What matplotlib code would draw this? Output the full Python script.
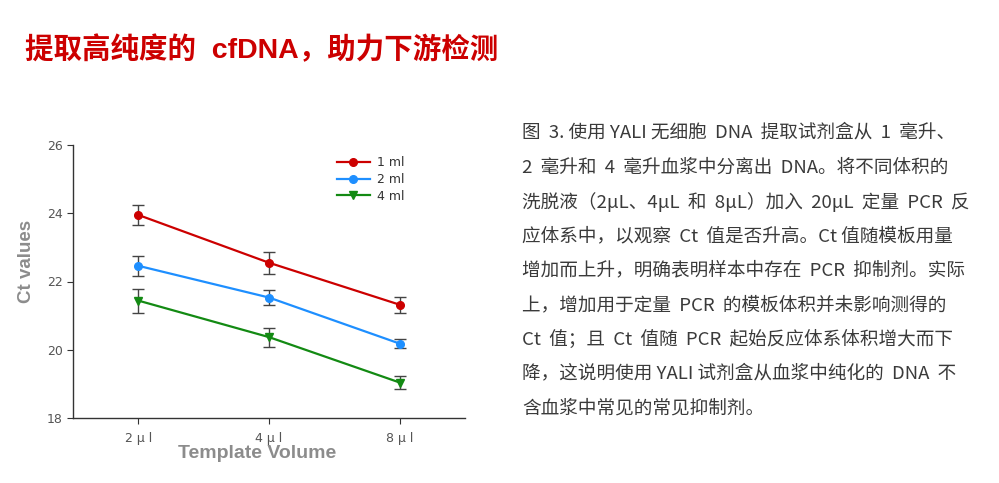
import matplotlib
matplotlib.use("Agg")
import matplotlib.pyplot as plt

# ── data ──────────────────────────────────────────────────────────────
volumes    = ["2 μ l", "4 μ l", "8 μ l"]
series     = ["1 ml", "2 ml", "4 ml"]
ct_1ml     = [23.95, 22.55, 21.32]
ct_2ml     = [22.46, 21.53, 20.18]
ct_4ml     = [21.44, 20.37, 19.04]
err_1ml    = [0.30, 0.32, 0.24]
err_2ml    = [0.30, 0.22, 0.14]
err_4ml    = [0.35, 0.28, 0.18]

title = "提取高纯度的  cfDNA，助力下游检测"
caption_lines = [
    "图  3. 使用 YALI 无细胞  DNA  提取试剂盒从  1  毫升、",
    "2  毫升和  4  毫升血浆中分离出  DNA。将不同体积的",
    "洗脱液（2μL、4μL  和  8μL）加入  20μL  定量  PCR  反",
    "应体系中，以观察  Ct  值是否升高。Ct 值随模板用量",
    "增加而上升，明确表明样本中存在  PCR  抑制剂。实际",
    "上，增加用于定量  PCR  的模板体积并未影响测得的",
    "Ct  值；且  Ct  值随  PCR  起始反应体系体积增大而下",
    "降，这说明使用 YALI 试剂盒从血浆中纯化的  DNA  不",
    "含血浆中常见的常见抑制剂。",
]

plt.rcParams["font.family"] = ["DejaVu Sans", "Noto Sans CJK SC"]

W, H = 999, 483
fig = plt.figure(figsize=(W / 100, H / 100), dpi=100)

# ── title ─────────────────────────────────────────────────────────────
fig.text(25 / W, 1 - 50 / H, title, color="#cc0000", fontsize=20.5,
         fontweight="bold", va="center", ha="left",
         family=["Liberation Sans", "Noto Sans CJK SC"])

# ── chart ─────────────────────────────────────────────────────────────
ax = fig.add_axes([73 / W, 1 - 418 / H, 392 / W, 273 / H])
x = list(range(len(volumes)))
styles = [
    (ct_1ml, err_1ml, "#cc0000", "o"),
    (ct_2ml, err_2ml, "#1e8fff", "o"),
    (ct_4ml, err_4ml, "#138a13", "v"),
]
for (vals, errs, col, mk), lab in zip(styles, series):
    ax.errorbar(x, vals, yerr=errs, fmt="none", ecolor="#444444",
                elinewidth=1, capsize=4, capthick=1, zorder=2)
    ax.plot(x, vals, color=col, lw=1.6, marker=mk, ms=5.5, label=lab, zorder=3)

ax.set_xlim(-0.5, 2.5)
ax.set_ylim(18, 26)
ax.set_yticks([18, 20, 22, 24, 26])
ax.set_xticks(x)
ax.set_xticklabels(volumes)
for s in ("top", "right"):
    ax.spines[s].set_visible(False)
for s in ("left", "bottom"):
    ax.spines[s].set_color("#333333")
    ax.spines[s].set_linewidth(1)
ax.tick_params(direction="out", length=4, colors="#333333", labelcolor="#555555",
               labelsize=9)
ax.tick_params(axis="x", pad=6)

ax.set_ylabel("Ct values", fontsize=13.5, fontweight="bold", color="#8c8c8c",
              family="Liberation Sans")
ax.yaxis.set_label_coords(-0.118, 0.575)
ax.yaxis.label.set_va("center")
ax.set_xlabel("Template Volume", fontsize=14, fontweight="bold", color="#8c8c8c",
              family="Liberation Sans")
ax.xaxis.set_label_coords(0.47, -0.1)

ax.legend(loc="upper left", bbox_to_anchor=(0.645, 1.0), frameon=False,
          fontsize=9, handlelength=2.6, handletextpad=0.6, labelspacing=0.3,
          labelcolor="#333333")

# ── caption on the right ──────────────────────────────────────────────
y0, dy = 133, 34.4
for i, line in enumerate(caption_lines):
    fig.text(522 / W, 1 - (y0 + i * dy) / H, line, fontsize=13.4, color="#3a3a3a",
             va="center", ha="left", family=["Noto Sans CJK SC", "DejaVu Sans"])

fig.savefig("out.png", dpi=100, facecolor="white")
